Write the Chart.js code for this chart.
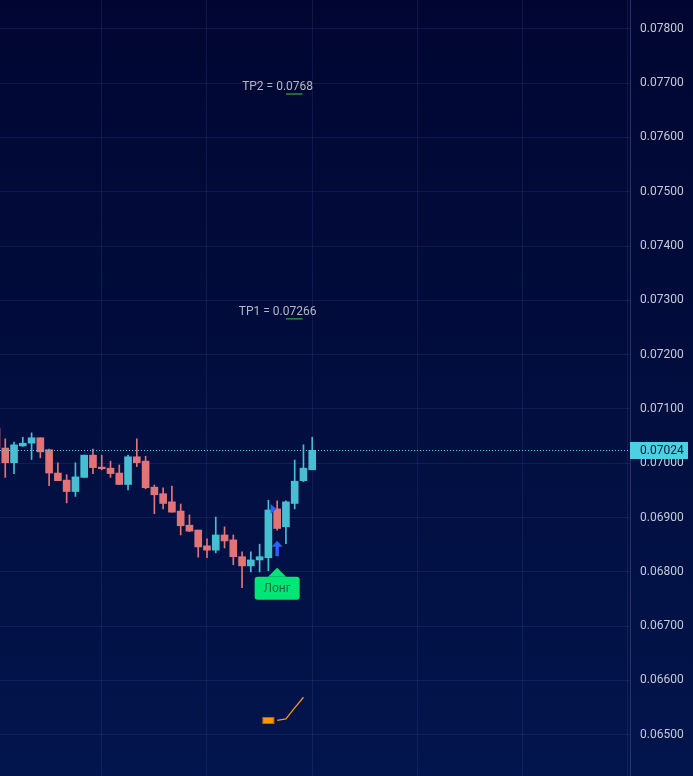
<!DOCTYPE html>
<html>
<head>
<meta charset="utf-8">
<script src="https://cdn.jsdelivr.net/npm/chart.js@4.4.1/dist/chart.umd.min.js"></script>
<style>
  html, body { margin: 0; padding: 0; background: #020a36; }
  #wrap { width: 693px; height: 776px; position: relative; }
</style>
</head>
<body>
<div id="wrap"><canvas id="chart"></canvas></div>
<script>
// OHLC, first candle is only partly visible at the left edge
const opens  = [0.07065, 0.07028, 0.07001, 0.07032, 0.07037, 0.07047, 0.07025, 0.06982, 0.06969, 0.06948,
                0.06974, 0.07015, 0.06993, 0.06991, 0.06982, 0.06961, 0.07012, 0.07004, 0.06956, 0.06944,
                0.06929, 0.06912, 0.06886, 0.06877, 0.06848, 0.06840, 0.06868, 0.06859, 0.06828, 0.06811,
                0.06822, 0.06826, 0.06916, 0.06883, 0.06926, 0.06968, 0.06988];
const highs  = [0.07070, 0.07045, 0.07039, 0.07048, 0.07056, 0.07047, 0.07026, 0.07001, 0.06979, 0.07001,
                0.07015, 0.07026, 0.07015, 0.07004, 0.06997, 0.07015, 0.07045, 0.07013, 0.06960, 0.06955,
                0.06958, 0.06925, 0.06905, 0.06877, 0.06861, 0.06901, 0.06883, 0.06868, 0.06837, 0.06837,
                0.06851, 0.06932, 0.06931, 0.06931, 0.07006, 0.07034, 0.07048];
const lows   = [0.07015, 0.06974, 0.06981, 0.07031, 0.07007, 0.07010, 0.06959, 0.06968, 0.06927, 0.06939,
                0.06974, 0.06981, 0.06988, 0.06974, 0.06961, 0.06951, 0.06994, 0.06953, 0.06907, 0.06916,
                0.06910, 0.06868, 0.06874, 0.06827, 0.06826, 0.06835, 0.06844, 0.06813, 0.06771, 0.06800,
                0.06800, 0.06802, 0.06877, 0.06852, 0.06916, 0.06966, 0.06988];
const closes = [0.07028, 0.07001, 0.07034, 0.07037, 0.07047, 0.07021, 0.06982, 0.06968, 0.06948, 0.06975,
                0.07015, 0.06992, 0.06990, 0.06981, 0.06961, 0.07012, 0.07001, 0.06955, 0.06942, 0.06926,
                0.06910, 0.06885, 0.06875, 0.06846, 0.06840, 0.06868, 0.06857, 0.06828, 0.06811, 0.06822,
                0.06828, 0.06914, 0.06880, 0.06929, 0.06967, 0.06991, 0.07024];

const yTicks = [0.065, 0.066, 0.067, 0.068, 0.069, 0.070, 0.071, 0.072, 0.073, 0.074, 0.075, 0.076, 0.077, 0.078];
const xGrid = [11, 23, 35, 47, 59, 71];

const lastPrice = 0.07024;
const targetLabels = ['TP2 = 0.0768', 'TP1 = 0.07266'];
const targetValues = [0.0768, 0.07266];

// signal markers (candle index, price level)
const signalBar = 31;
const signalLabel = 'Лонг';
const signalLevel = 0.068077;
const arrowLevel = 0.068575;
const entryLevel = 0.069158;

// small indicator at the bottom
const oscBar = 30;
const oscBarLevel = 0.065263;
const oscX = [31, 32, 33, 34];
const oscY = [0.065267, 0.065291, 0.065494, 0.065691];

const UP = '#47bfd3';
const DOWN = '#e27477';

const idx = opens.map((_, i) => i - 1);
const colors = opens.map((o, i) => closes[i] >= o ? UP : DOWN);

const background = {
  id: 'background',
  beforeDraw(chart) {
    const { ctx, width, height } = chart;
    const g = ctx.createLinearGradient(0, 0, 0, height);
    g.addColorStop(0, '#010631');
    g.addColorStop(1, '#02154c');
    ctx.save();
    ctx.fillStyle = g;
    ctx.fillRect(0, 0, width, height);
    ctx.restore();
  }
};

const overlay = {
  id: 'overlay',
  afterDatasetsDraw(chart) {
    const { ctx, chartArea, scales: { x, y } } = chart;
    ctx.save();

    // last price dotted line
    const py = Math.round(y.getPixelForValue(lastPrice)) + 0.5;
    ctx.strokeStyle = '#4dd0e1';
    ctx.lineWidth = 1;
    ctx.setLineDash([1, 2]);
    ctx.beginPath();
    ctx.moveTo(chartArea.left, py);
    ctx.lineTo(chartArea.right, py);
    ctx.stroke();
    ctx.setLineDash([]);

    // take profit labels
    ctx.font = '12px Roboto';
    ctx.textAlign = 'center';
    ctx.textBaseline = 'alphabetic';
    targetValues.forEach((v, i) => {
      const ty = y.getPixelForValue(v);
      ctx.fillStyle = '#b4b8c4';
      ctx.fillText(targetLabels[i], x.getPixelForValue(signalBar + 0.05), ty - 4);
      ctx.strokeStyle = '#2f8a3e';
      ctx.lineWidth = 1.5;
      ctx.beginPath();
      ctx.moveTo(x.getPixelForValue(signalBar + 1), ty);
      ctx.lineTo(x.getPixelForValue(signalBar + 2.9), ty);
      ctx.stroke();
    });

    const sx = x.getPixelForValue(signalBar);

    // entry triangle
    const ey = y.getPixelForValue(entryLevel);
    ctx.fillStyle = '#2962ff';
    ctx.beginPath();
    ctx.moveTo(sx - 6.6, ey - 5);
    ctx.lineTo(sx - 0.6, ey);
    ctx.lineTo(sx - 6.6, ey + 5);
    ctx.closePath();
    ctx.fill();

    // up arrow
    const ay = y.getPixelForValue(arrowLevel);
    ctx.beginPath();
    ctx.moveTo(sx, ay);
    ctx.lineTo(sx + 5.5, ay + 6);
    ctx.lineTo(sx + 1.7, ay + 6);
    ctx.lineTo(sx + 1.7, ay + 15.5);
    ctx.lineTo(sx - 1.7, ay + 15.5);
    ctx.lineTo(sx - 1.7, ay + 6);
    ctx.lineTo(sx - 5.5, ay + 6);
    ctx.closePath();
    ctx.fill();

    // long label
    const ly = y.getPixelForValue(signalLevel);
    const bx = sx - 22.5, bw = 45, by = ly + 9, bh = 23;
    ctx.fillStyle = '#00e676';
    ctx.beginPath();
    ctx.moveTo(sx, ly);
    ctx.lineTo(sx + 9, by);
    ctx.lineTo(sx - 9, by);
    ctx.closePath();
    ctx.fill();
    ctx.beginPath();
    ctx.roundRect(bx, by, bw, bh, 3);
    ctx.fill();
    ctx.fillStyle = '#1c6a41';
    ctx.textBaseline = 'middle';
    ctx.fillText(signalLabel, sx, by + bh / 2 + 0.5);

    // indicator block
    const ox = x.getPixelForValue(oscBar);
    const oy = y.getPixelForValue(oscBarLevel);
    ctx.fillStyle = '#ff9800';
    ctx.strokeStyle = '#b86d00';
    ctx.lineWidth = 1;
    ctx.fillRect(ox - 5.5, oy - 3, 11, 6);
    ctx.strokeRect(ox - 5.5, oy - 3, 11, 6);

    ctx.restore();
  },
  afterDraw(chart) {
    const { ctx, chartArea, scales: { y } } = chart;
    const py = y.getPixelForValue(lastPrice);
    ctx.save();
    ctx.fillStyle = '#4dd0e1';
    ctx.fillRect(chartArea.right, Math.round(py) - 8, 58, 17);
    ctx.fillStyle = '#0b1838';
    ctx.font = '12px Roboto';
    ctx.textAlign = 'left';
    ctx.textBaseline = 'middle';
    ctx.fillText(lastPrice.toFixed(5), chartArea.right + 10, Math.round(py) + 1);
    ctx.restore();
  }
};

new Chart(document.getElementById('chart'), {
  type: 'bar',
  data: {
    datasets: [
      {
        type: 'line',
        data: oscX.map((v, i) => ({ x: v, y: oscY[i] })),
        borderColor: '#f7931a',
        borderWidth: 1.3,
        pointRadius: 0,
        tension: 0,
        order: 0
      },
      {
        data: idx.map((v, i) => ({ x: v, y: [opens[i], closes[i]] })),
        backgroundColor: colors,
        barThickness: 7,
        grouped: false,
        order: 1
      },
      {
        data: idx.map((v, i) => ({ x: v, y: [lows[i], highs[i]] })),
        backgroundColor: colors,
        barThickness: 1,
        grouped: false,
        order: 2
      }
    ]
  },
  options: {
    responsive: true,
    maintainAspectRatio: false,
    animation: false,
    layout: { padding: 0 },
    plugins: {
      legend: { display: false },
      tooltip: { enabled: false }
    },
    scales: {
      x: {
        type: 'linear',
        min: -0.6,
        max: 71.23,
        offset: false,
        afterBuildTicks: (scale) => { scale.ticks = xGrid.map(v => ({ value: v })); },
        ticks: { display: false },
        grid: { color: 'rgba(90,110,190,0.16)', drawTicks: false, offset: false },
        border: { display: false }
      },
      y: {
        position: 'right',
        min: 0.064241,
        max: 0.078532,
        afterBuildTicks: (scale) => { scale.ticks = yTicks.map(v => ({ value: v })); },
        afterFit: (scale) => {
          scale.width = 63;
          scale.paddingTop = 0;
          scale.paddingBottom = 0;
        },
        ticks: {
          padding: 10,
          crossAlign: 'near',
          color: '#c6cad6',
          font: { family: 'Roboto', size: 12 },
          callback: (v) => Number(v).toFixed(5)
        },
        grid: { color: 'rgba(90,110,190,0.16)', drawTicks: false },
        border: { display: true, color: '#2a3266' }
      }
    }
  },
  plugins: [background, overlay]
});
</script>
</body>
</html>
